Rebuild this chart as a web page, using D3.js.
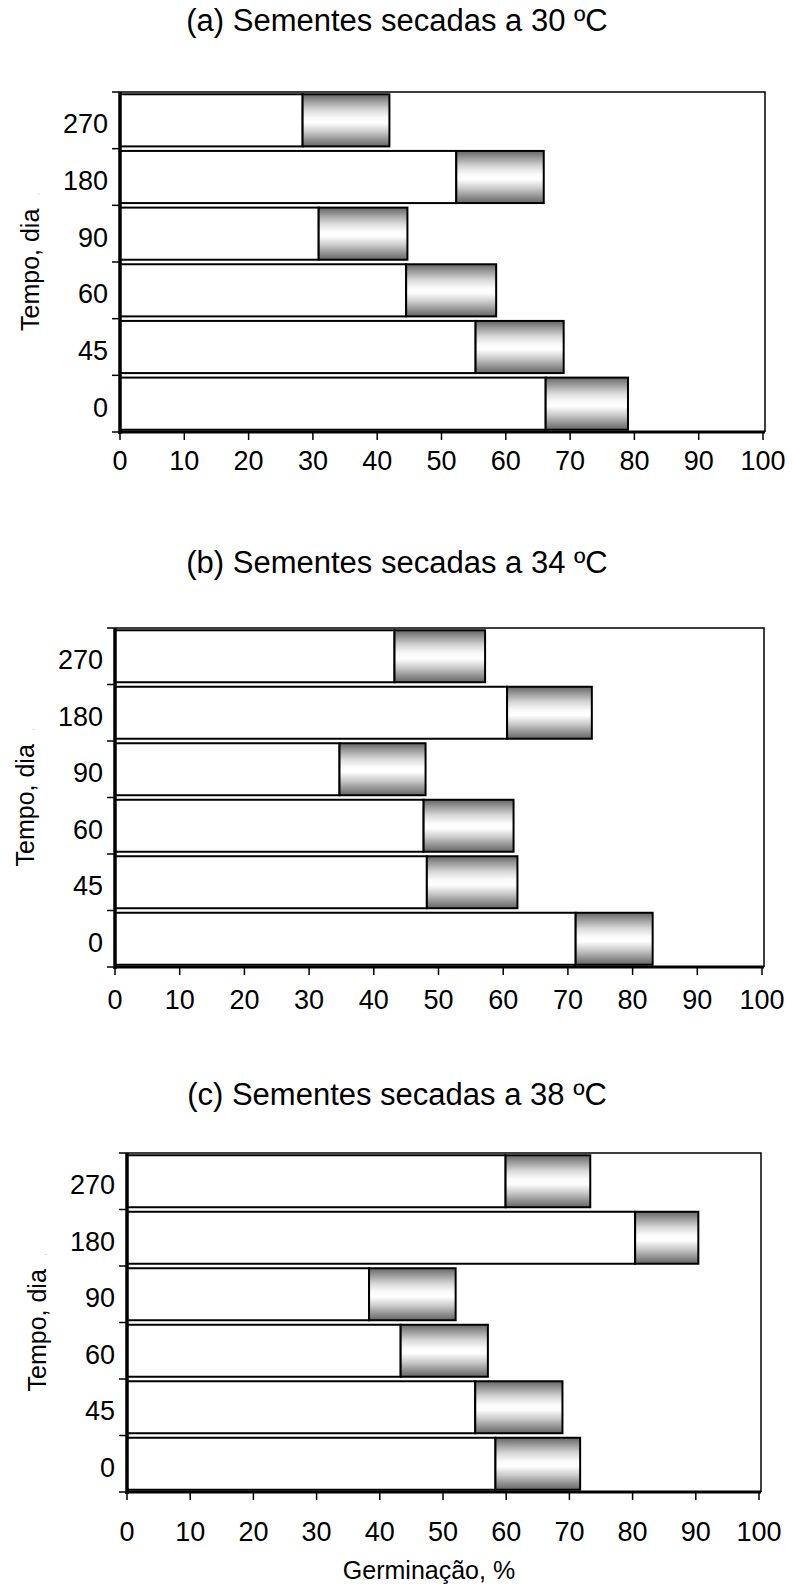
<!DOCTYPE html>
<html>
<head>
	<meta charset="UTF-8">
	<title>Germinação - sementes secadas</title>
	<script src="https://d3js.org/d3.v7.min.js"></script>
	<style>
	body { margin: 0; background: #fff; }
	svg text { font-family: "Liberation Sans", Arial, sans-serif; fill: #000; }
	.title { font-size: 31px; text-anchor: middle; }
	.tick-label { font-size: 27px; }
	.axis-label { font-size: 25px; text-anchor: middle; }
	</style>
</head>
<body>
<svg width="792" height="1588"></svg>
<script>
// tempo de armazenamento (dias), de baixo para cima
var categories = ["0", "45", "60", "90", "180", "270"];
var xTicks = [0, 10, 20, 30, 40, 50, 60, 70, 80, 90, 100];

// (a) 30 ºC
var whiteA = [66.2, 55.3, 44.5, 30.9, 52.3, 28.4];
var totalA = [79.0, 69.0, 58.5, 44.7, 65.9, 41.9];
// (b) 34 ºC
var whiteB = [71.2, 48.2, 47.7, 34.7, 60.6, 43.2];
var totalB = [83.1, 62.2, 61.6, 48.0, 73.7, 57.2];
// (c) 38 ºC
var whiteC = [58.3, 55.1, 43.3, 38.3, 80.4, 59.9];
var totalC = [71.7, 68.9, 57.1, 52.0, 90.4, 73.3];

var titles = ["(a) Sementes secadas a 30 ºC", "(b) Sementes secadas a 34 ºC", "(c) Sementes secadas a 38 ºC"];

var panels = [
	{title: titles[0], white: whiteA, total: totalA, left: 120, right: 763, top: 92, bottom: 432, titleY: 31, labY: 38},
	{title: titles[1], white: whiteB, total: totalB, left: 115, right: 762, top: 628, bottom: 967, titleY: 573, labY: 42},
	{title: titles[2], white: whiteC, total: totalC, left: 127, right: 759, top: 1153, bottom: 1492, titleY: 1105, labY: 49}
];

var svg = d3.select("svg");

var grad = svg.append("defs").append("linearGradient")
	.attr("id", "cilindro")
	.attr("x1", 0).attr("y1", 0).attr("x2", 0).attr("y2", 1);
[["0%", "#666"], ["12%", "#959595"], ["30%", "#d8d8d8"], ["45%", "#fafafa"], ["55%", "#fff"],
 ["72%", "#cacaca"], ["88%", "#8f8f8f"], ["100%", "#666"]].forEach(function (s) {
	grad.append("stop").attr("offset", s[0]).attr("stop-color", s[1]);
});

panels.forEach(function (p) {
	var x = d3.scaleLinear().domain([0, 100]).range([p.left, p.right]);
	var y = d3.scaleBand().domain(categories.slice().reverse())
		.range([p.top, p.bottom]).paddingInner(0.08).paddingOuter(0.04);
	var step = (p.bottom - p.top) / categories.length;

	var g = svg.append("g");

	g.append("text").attr("class", "title")
		.attr("x", 397).attr("y", p.titleY).text(p.title);

	// moldura (topo + direita, fina)
	g.append("path")
		.attr("d", "M" + p.left + "," + p.top + "H" + (x(100) + 2) + "V" + p.bottom)
		.attr("fill", "none").attr("stroke", "#000").attr("stroke-width", 1.5);

	var rows = categories.map(function (c, i) {
		return {cat: c, w: p.white[i], t: p.total[i]};
	});

	g.selectAll(".bar-white").data(rows).enter().append("rect")
		.attr("class", "bar-white")
		.attr("x", x(0))
		.attr("y", function (d) { return y(d.cat); })
		.attr("width", function (d) { return x(d.w) - x(0); })
		.attr("height", y.bandwidth())
		.attr("fill", "#fff").attr("stroke", "#000").attr("stroke-width", 2);

	g.selectAll(".bar-gray").data(rows).enter().append("rect")
		.attr("class", "bar-gray")
		.attr("x", function (d) { return x(d.w); })
		.attr("y", function (d) { return y(d.cat); })
		.attr("width", function (d) { return x(d.t) - x(d.w); })
		.attr("height", y.bandwidth())
		.attr("fill", "url(#cilindro)").attr("stroke", "#000").attr("stroke-width", 2);

	// eixo y
	g.append("line")
		.attr("x1", x(0)).attr("x2", x(0)).attr("y1", p.top).attr("y2", p.bottom + 2)
		.attr("stroke", "#000").attr("stroke-width", 3.5);
	d3.range(categories.length + 1).forEach(function (i) {
		g.append("line")
			.attr("x1", x(0) - 8).attr("x2", x(0))
			.attr("y1", p.top + i * step).attr("y2", p.top + i * step)
			.attr("stroke", "#000").attr("stroke-width", 1.5);
	});
	g.selectAll(".ylab").data(categories).enter().append("text")
		.attr("class", "tick-label")
		.attr("text-anchor", "end")
		.attr("x", x(0) - 12)
		.attr("y", function (d) { return y(d) + y.bandwidth() / 2 + 13; })
		.text(function (d) { return d; });

	// eixo x
	g.append("line")
		.attr("x1", x(0)).attr("x2", x(100) + 2).attr("y1", p.bottom).attr("y2", p.bottom)
		.attr("stroke", "#000").attr("stroke-width", 3);
	g.selectAll(".xtick").data(xTicks).enter().append("line")
		.attr("x1", function (d) { return x(d); }).attr("x2", function (d) { return x(d); })
		.attr("y1", p.bottom).attr("y2", p.bottom + 8)
		.attr("stroke", "#000").attr("stroke-width", 1.5);
	g.selectAll(".xlab").data(xTicks).enter().append("text")
		.attr("class", "tick-label")
		.attr("text-anchor", "middle")
		.attr("x", function (d) { return x(d); })
		.attr("y", p.bottom + p.labY)
		.text(function (d) { return d; });

	var ly = g.append("text").attr("class", "axis-label")
		.attr("transform", "translate(" + (x(0) - 81) + "," + ((p.top + p.bottom) / 2) + ") rotate(-90)")
		.text("Tempo, dia");
	ly.append("tspan").attr("font-size", 6).attr("dx", 14).text(".");
});

svg.append("text").attr("class", "axis-label")
	.attr("x", 429).attr("y", 1579).text("Germinação, %");
</script>
</body>
</html>
